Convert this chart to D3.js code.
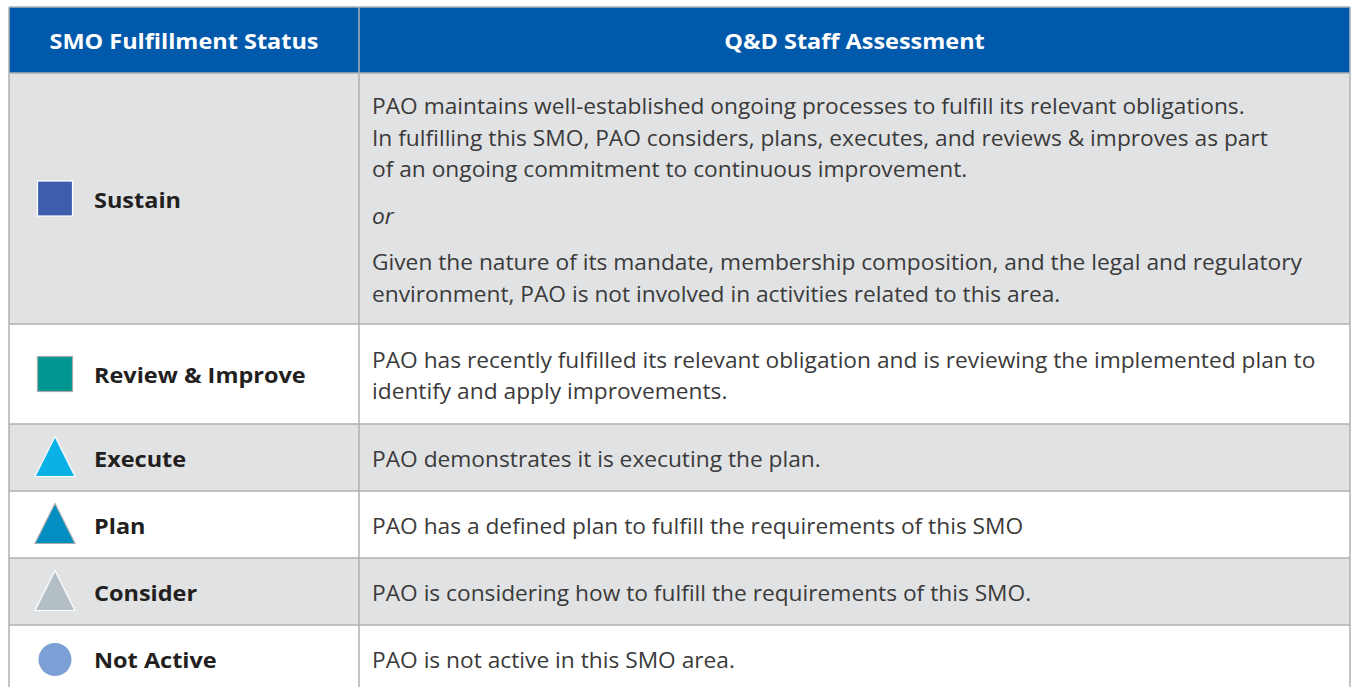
<!DOCTYPE html>
<html><head><meta charset="utf-8">
<script src="https://cdn.jsdelivr.net/npm/d3@7"></script>
<style>
html,body{margin:0;padding:0;background:#fff;}
svg{display:block;}
</style></head>
<body>
<svg id="c" width="1351" height="687"></svg>
<script>
// ---- data ----
const headers = ["SMO Fulfillment Status", "Q&D Staff Assessment"];
const statuses = ["Sustain", "Review & Improve", "Execute", "Plan", "Consider", "Not Active"];
const shapes = ["square", "square", "triangle", "triangle", "triangle", "circle"];
const iconColors = ["#3d5eac", "#00968f", "#0bb1e6", "#008fc0", "#b4bfc5", "#7c9fd5"];
const iconStrokes = ["#ffffff", "#a9abad", "#ffffff", "#a9abad", "#ffffff", "none"];
const descriptions = [
  [
    {italic:false, lines:["PAO maintains well-established ongoing processes to fulfill its relevant obligations.",
      "In fulfilling this SMO, PAO considers, plans, executes, and reviews & improves as part",
      "of an ongoing commitment to continuous improvement."]},
    {italic:true, lines:["or"]},
    {italic:false, lines:["Given the nature of its mandate, membership composition, and the legal and regulatory",
      "environment, PAO is not involved in activities related to this area."]}
  ],
  [ {italic:false, lines:["PAO has recently fulfilled its relevant obligation and is reviewing the implemented plan to",
      "identify and apply improvements."]} ],
  [ {italic:false, lines:["PAO demonstrates it is executing the plan."]} ],
  [ {italic:false, lines:["PAO has a defined plan to fulfill the requirements of this SMO"]} ],
  [ {italic:false, lines:["PAO is considering how to fulfill the requirements of this SMO."]} ],
  [ {italic:false, lines:["PAO is not active in this SMO area."]} ]
];

// ---- layout ----
const rowHeights = [66, 251, 100, 67, 67, 67, 67];
const tableLeft = 9, tableTop = 7, tableRight = 1350, colSplit = 359;
const lineGap = 31.5, paraGap = 46.5;
const font = "'Open Sans', 'Noto Sans', sans-serif";
const bodyScale = 1.083, boldScale = 1.118, textShift = 2;

const svg = d3.select("#c");
const rowTops = d3.cumsum([tableTop, ...rowHeights]);
const yBand = i => rowTops[i];
const x = d3.scaleOrdinal().domain([0,1]).range([tableLeft, colSplit]);
const colW = [colSplit - tableLeft, tableRight - colSplit];

function addText(parent, tx, ty, sx, str) {
  return parent.append("g").attr("transform", `translate(${tx},${ty}) scale(${sx},1)`)
    .append("text").attr("x", 0).attr("y", 0).attr("dy", "0.35em").attr("font-family", font).text(str);
}

// header
svg.append("rect").attr("x", tableLeft).attr("y", yBand(0)).attr("width", tableRight - tableLeft)
  .attr("height", rowHeights[0]).attr("fill", "#0059ab");
headers.forEach((h, i) => {
  addText(svg, x(i) + colW[i]/2, yBand(0) + rowHeights[0]/2 + 1.5, boldScale, h)
    .attr("text-anchor","middle").attr("fill","#fff").attr("font-weight",700).attr("font-size",21);
});

// body rows
const rows = svg.selectAll("g.row").data(statuses).join("g").attr("class","row")
  .attr("transform", (d,i) => `translate(0,${yBand(i+1)})`);
rows.append("rect").attr("x", tableLeft).attr("y", 0).attr("width", tableRight - tableLeft)
  .attr("height", (d,i) => rowHeights[i+1]).attr("fill", (d,i) => i % 2 === 0 ? "#e1e2e4" : "#ffffff");

rows.each(function(d,i){
  const g = d3.select(this);
  const cy = rowHeights[i+1]/2, cx = 55;
  const s = shapes[i];
  if (s === "square") {
    g.append("rect").attr("x", cx-17.5).attr("y", cy-17.5).attr("width",35).attr("height",35)
      .attr("fill", iconColors[i]).attr("stroke", iconStrokes[i]).attr("stroke-width",1.2);
  } else if (s === "triangle") {
    g.append("path").attr("d", `M${cx},${cy-21}L${cx+20},${cy+19}L${cx-20},${cy+19}Z`)
      .attr("fill", iconColors[i]).attr("stroke", iconStrokes[i]).attr("stroke-width",1.2);
  } else {
    g.append("circle").attr("cx", cx).attr("cy", cy+1).attr("r", 16.5).attr("fill", iconColors[i]);
  }
  addText(g, 94, cy + textShift, boldScale, d)
    .attr("fill","#231f20").attr("font-weight",700).attr("font-size",21);

  const paras = descriptions[i];
  let nLines = 0; paras.forEach(p => nLines += p.lines.length);
  const totalH = (nLines - paras.length) * lineGap + (paras.length - 1) * paraGap;
  let yy = cy - totalH/2 + textShift;
  paras.forEach((p) => {
    p.lines.forEach((ln, li) => {
      addText(g, 372, yy, bodyScale, ln)
        .attr("fill","#3a3a3a").attr("font-size",21)
        .attr("font-style", p.italic ? "italic" : "normal");
      if (li < p.lines.length - 1) yy += lineGap;
    });
    yy += paraGap;
  });
});

// grid lines
const gridColor = "#aeb0b3";
svg.append("g").selectAll("line").data(rowTops.slice(0, rowTops.length-1)).join("line")
  .attr("x1", tableLeft).attr("x2", tableRight).attr("y1", d=>d).attr("y2", d=>d)
  .attr("stroke", gridColor).attr("stroke-width", 1.5);
svg.append("g").selectAll("line").data([tableLeft, colSplit, tableRight]).join("line")
  .attr("x1", d=>d).attr("x2", d=>d).attr("y1", tableTop).attr("y2", 687)
  .attr("stroke", gridColor).attr("stroke-width", 1.5);
</script>
</body></html>
